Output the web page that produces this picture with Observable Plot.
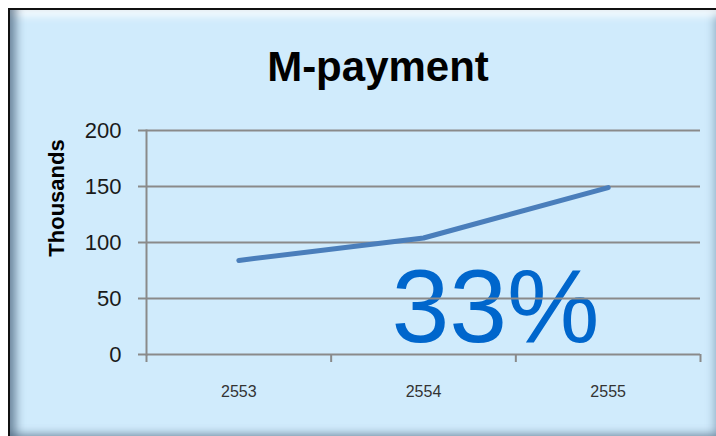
<!DOCTYPE html>
<html>
<head>
<meta charset="utf-8">
<script src="https://cdn.jsdelivr.net/npm/d3@7"></script>
<script src="https://cdn.jsdelivr.net/npm/@observablehq/plot@0.6"></script>
<style>
  html, body { margin: 0; padding: 0; background: #ffffff; }
  #wrap { position: relative; width: 716px; height: 436px; overflow: hidden; background: #ffffff; }
  #panel {
    position: absolute; left: 8px; top: 8px; width: 712px; height: 432px;
    box-sizing: border-box;
    background: #D0EBFC;
    border-top: 2px solid #111;
    border-left: 2px solid #111;
    box-shadow:
      inset 12px 0 10px -6px rgba(70, 95, 120, 0.7),
      inset 0 12px 9px -6px rgba(255, 255, 255, 0.85),
      inset -12px 0 8px -6px rgba(100, 130, 155, 0.55),
      inset 0 -12px 8px -6px rgba(80, 105, 130, 0.7);
  }
  #title {
    position: absolute; left: 0; width: 756px; top: 43px; text-align: center;
    font-family: "Liberation Sans", Arial, sans-serif; font-weight: bold;
    font-size: 42px; color: #000; letter-spacing: 0px;
  }
  #ylabel {
    position: absolute; left: 57px; top: 198px;
    transform: translate(-50%, -50%) rotate(-90deg);
    font-family: "Liberation Sans", Arial, sans-serif; font-weight: bold;
    font-size: 22px; color: #000; white-space: nowrap;
  }
  #chart { position: absolute; left: 0; top: 0; }
</style>
</head>
<body>
<div id="wrap">
  <div id="panel"></div>
  <div id="title">M-payment</div>
  <div id="ylabel">Thousands</div>
  <div id="chart"></div>
</div>
<script>
const categories = ["2553", "2554", "2555"];
const values = [84, 104, 149];
const yTicks = [0, 50, 100, 150, 200];
const annotation = "33%";

const data = categories.map((c, i) => ({pos: i + 0.5, year: c, value: values[i]}));
const boundaries = d3.range(categories.length + 1);
const centers = categories.map((c, i) => i + 0.5);

const chart = Plot.plot({
  width: 716,
  height: 436,
  marginLeft: 146,
  marginRight: 16,
  marginTop: 130,
  marginBottom: 82,
  style: {background: "transparent", overflow: "visible"},
  x: {domain: [0, categories.length]},
  y: {domain: [0, 200]},
  marks: [
    Plot.text([annotation], {
      x: () => 1.5, y: () => 0, text: d => d,
      dx: 72, dy: -13,
      textAnchor: "middle", lineAnchor: "bottom",
      fontSize: 104, fill: "#0066CC",
      fontFamily: "Liberation Sans, Arial, sans-serif"
    }),
    Plot.gridY(yTicks.filter(d => d > 0), {stroke: "#8a8a8a", strokeOpacity: 1, strokeWidth: 2}),
    Plot.ruleY([0], {stroke: "#8a8a8a", strokeWidth: 2}),
    Plot.frame({anchor: "left", stroke: "#8a8a8a", strokeWidth: 2}),
    Plot.axisY({
      ticks: yTicks, tickSize: 8, tickPadding: 17, label: null,
      stroke: "#8a8a8a", strokeWidth: 2,
      fontSize: 22, fill: "#1a1a1a",
      fontFamily: "Liberation Sans, Arial, sans-serif"
    }),
    Plot.axisX({
      ticks: boundaries, tickSize: 8, tickFormat: () => "", label: null,
      stroke: "#8a8a8a", strokeWidth: 2
    }),
    Plot.axisX({
      ticks: centers, tickSize: 0, tickPadding: 31, label: null,
      tickFormat: d => categories[Math.floor(d)],
      fontSize: 16, fill: "#333",
      fontFamily: "Liberation Sans, Arial, sans-serif"
    }),
    Plot.line(data, {
      x: "pos", y: "value",
      stroke: "#4A7EBB", strokeWidth: 5,
      strokeLinecap: "round", strokeLinejoin: "round"
    })
  ]
});
document.getElementById("chart").appendChild(chart);
</script>
</body>
</html>
